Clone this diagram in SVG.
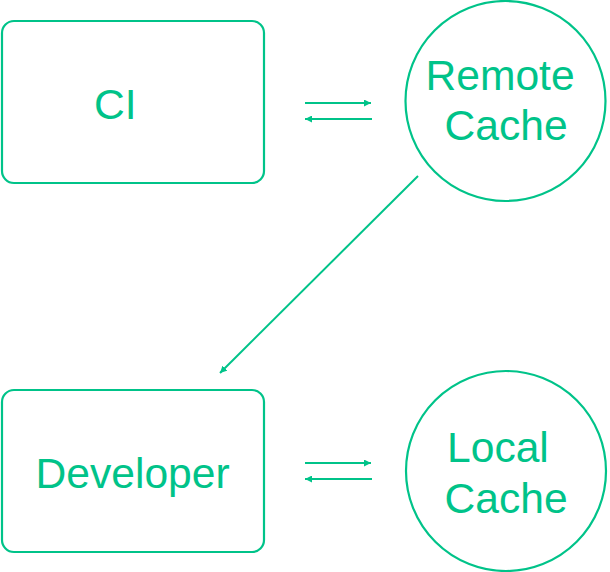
<svg xmlns="http://www.w3.org/2000/svg" width="610" height="572" viewBox="0 0 610 572">
<style>
.box{fill:#fff;stroke:#00c389;stroke-width:2.2}
.lbl{font-family:"Liberation Sans",Arial,sans-serif;font-size:42.6px;fill:#00c389}
.con{stroke:#00c389;stroke-width:2;fill:none}
</style>
<defs>
<marker id="ah" viewBox="0 0 10 10" refX="10" refY="5" markerWidth="7" markerHeight="7" markerUnits="userSpaceOnUse" orient="auto">
<path d="M0,0 L10,5 L0,10 z" fill="#00c389"/>
</marker>
</defs>
<rect width="610" height="572" fill="#fff"/>
<g id="ci">
<rect class="box" x="2" y="21" width="262" height="162" rx="12"/>
<text class="lbl" x="94" y="119">CI</text>
</g>
<g id="remote-cache">
<circle class="box" cx="505.5" cy="101" r="100"/>
<text class="lbl" x="425.5" y="90">Remote</text>
<text class="lbl" x="444.5" y="140">Cache</text>
</g>
<g id="developer">
<rect class="box" x="2" y="390" width="262" height="162" rx="12"/>
<text class="lbl" x="35.5" y="488">Developer</text>
</g>
<g id="local-cache">
<circle class="box" cx="506" cy="471" r="100"/>
<text class="lbl" x="447" y="462">Local</text>
<text class="lbl" x="444.5" y="513">Cache</text>
</g>
<g id="connectors">
<line class="con" x1="305" y1="103" x2="371" y2="103" marker-end="url(#ah)"/>
<line class="con" x1="372" y1="119" x2="305" y2="119" marker-end="url(#ah)"/>
<line class="con" x1="418" y1="176" x2="220" y2="373" marker-end="url(#ah)"/>
<line class="con" x1="305" y1="463" x2="371" y2="463" marker-end="url(#ah)"/>
<line class="con" x1="372" y1="479" x2="305" y2="479" marker-end="url(#ah)"/>
</g>
</svg>
